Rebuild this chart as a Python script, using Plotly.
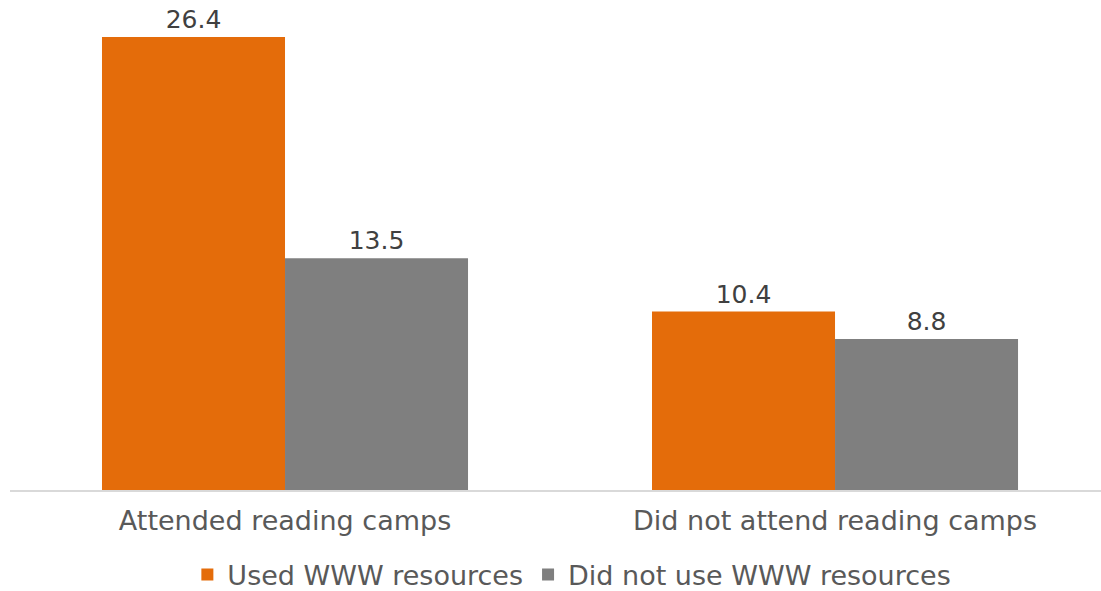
import plotly.graph_objects as go

categories = ["Attended reading camps", "Did not attend reading camps"]
used_www = [26.4, 10.4]
not_used_www = [13.5, 8.8]
series_names = ["Used WWW resources", "Did not use WWW resources"]

ORANGE = "#E46C0A"
GREY = "#7F7F7F"
TEXT = "#595959"
LABEL = "#404040"
FONT = "DejaVu Sans"

fig = go.Figure()
fig.add_trace(go.Bar(x=categories, y=used_www, name=series_names[0],
                     marker=dict(color=ORANGE, line=dict(width=0)),
                     text=[f"{v:.1f}" for v in used_www], textposition="outside",
                     textfont=dict(color=LABEL, size=25, family=FONT), cliponaxis=False))
fig.add_trace(go.Bar(x=categories, y=not_used_www, name=series_names[1],
                     marker=dict(color=GREY, line=dict(width=0)),
                     text=[f"{v:.1f}" for v in not_used_www], textposition="outside",
                     textfont=dict(color=LABEL, size=25, family=FONT), cliponaxis=False))

fig.update_layout(
    width=1101, height=591,
    margin=dict(l=10, r=0, t=10, b=101, autoexpand=False),
    paper_bgcolor="white", plot_bgcolor="white",
    barmode="group", bargap=0.3345, bargroupgap=0,
    font=dict(family=FONT, color=TEXT, size=25),
    showlegend=True,
    legend=dict(orientation="h", x=0.515, xanchor="center",
                yref="container", y=0.027, yanchor="middle",
                font=dict(size=27, color=TEXT, family=FONT), itemwidth=30,
                traceorder="normal"),
    uniformtext=dict(mode=False),
)
fig.update_xaxes(type="category", range=[-0.5, 1.4836], showline=True, linecolor="#D9D9D9",
                 linewidth=1.5, ticks="", showgrid=False, ticklabelstandoff=6,
                 tickfont=dict(size=27, color=TEXT, family=FONT))
fig.update_yaxes(range=[0, 27.97], visible=False, showgrid=False, zeroline=False)

fig.write_html("out.html", config={"displayModeBar": False},
               post_script="document.body.style.margin='0';")
